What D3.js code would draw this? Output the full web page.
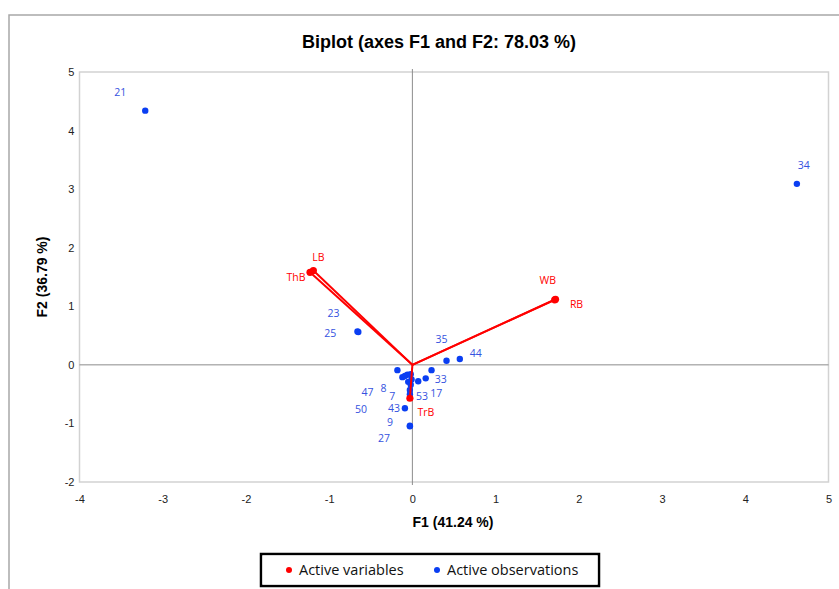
<!DOCTYPE html>
<html>
<head>
<meta charset="utf-8">
<script src="https://cdn.jsdelivr.net/npm/d3@7"></script>
<style>
  body { margin: 0; background: #fff; }
  svg { display: block; }
</style>
</head>
<body>
<div id="chart"></div>
<script>
var w = 839;
var h = 589;

// active variables (vectors from origin)
var varNames = ["LB", "ThB", "WB", "RB", "TrB"];
var varF1 = [-1.19, -1.23, 1.71, 1.72, -0.03];
var varF2 = [1.61, 1.58, 1.11, 1.12, -0.57];

// active observations
var obsNames = ["21", "34", "25", "23", "35", "44", "47", "", "33", "17", "8", "50", "", "", "", "7", "", "", "53", "43", "9", "27"];
var obsF1 = [-3.21, 4.62, -0.65, -0.66, 0.41, 0.57, -0.18, 0.23, 0.16, 0.07, -0.12, -0.09, -0.06, -0.02, -0.01, -0.05, -0.02, -0.03, -0.03, -0.09, -0.03, -0.03];
var obsF2 = [4.34, 3.09, 0.56, 0.57, 0.07, 0.10, -0.09, -0.09, -0.23, -0.28, -0.21, -0.19, -0.17, -0.16, -0.25, -0.29, -0.34, -0.43, -0.50, -0.74, -1.04, -1.05];

var xTicks = [-4, -3, -2, -1, 0, 1, 2, 3, 4, 5];
var yTicks = [-2, -1, 0, 1, 2, 3, 4, 5];

// label placement (pixel offsets from the point)
var varLabelOff = [[5, -13], [-14, 5], [-7, -20], [21, 5], [16, 14]];
var obsLabelOff = [[-25, -18], [7, -19], [-28, 1], [-24, -18], [-5, -21], [16, -6], [-30, 22], [0, 0],
  [15, 1], [18, 12], [-19, 11], [-44, 33], [0, 0], [0, 0], [0, 0], [-16, 14], [0, 0], [0, 0],
  [12, 2], [-11, 0], [-20, -3], [-26, 12]];

var svg = d3.select("#chart").append("svg").attr("width", w).attr("height", h);

var narrow = "'Liberation Sans Narrow', 'Arial Narrow', 'Liberation Sans', sans-serif";
var labFont = "'Open Sans', 'Noto Sans', sans-serif";
var blue = "#0a3ef2";
var blueText = "#3552e0";
var red = "#ff0000";

// outer frame
svg.append("rect").attr("x", 9).attr("y", 15).attr("width", w + 10).attr("height", h + 10)
  .attr("fill", "none").attr("stroke", "#a8a8a8").attr("stroke-width", 1.5);

var x = d3.scaleLinear().domain([-4, 5]).range([79.5, 828.5]);
var y = d3.scaleLinear().domain([-2, 5]).range([482, 72]);

// plot frame
svg.append("rect").attr("x", x(-4)).attr("y", y(5))
  .attr("width", x(5) - x(-4)).attr("height", y(-2) - y(5))
  .attr("fill", "none").attr("stroke", "#d2d2d2").attr("stroke-width", 1.5);

// zero lines
svg.append("line").attr("x1", x(-4)).attr("x2", x(5)).attr("y1", y(0)).attr("y2", y(0))
  .attr("stroke", "#8c8c8c").attr("stroke-width", 1);
svg.append("line").attr("x1", x(0)).attr("x2", x(0)).attr("y1", y(5) - 3).attr("y2", y(-2) + 3)
  .attr("stroke", "#8c8c8c").attr("stroke-width", 1);

// axes (tick labels only)
var fmt = function(d) { return String(d); };
var xAxis = svg.append("g").attr("transform", "translate(0," + (y(-2) + 8) + ")")
  .call(d3.axisBottom(x).tickValues(xTicks).tickSize(0).tickFormat(fmt));
var yAxis = svg.append("g").attr("transform", "translate(" + (x(-4) - 12) + ",0)")
  .call(d3.axisLeft(y).tickValues(yTicks).tickSize(0).tickFormat(fmt));
[xAxis, yAxis].forEach(function(a) {
  a.select(".domain").remove();
  a.selectAll("text").attr("font-family", narrow).attr("font-size", 11).attr("fill", "#222");
});
xAxis.selectAll("text").attr("dy", "0.9em");
yAxis.selectAll("text").attr("text-anchor", "end").attr("dx", "0.9em");

// title and axis titles
svg.append("text").text("Biplot (axes F1 and F2: 78.03 %)")
  .attr("x", 439).attr("y", 48).attr("text-anchor", "middle")
  .attr("font-family", narrow).attr("font-weight", "bold").attr("font-size", 18).attr("fill", "#000");
svg.append("text").text("F1 (41.24 %)")
  .attr("x", 453).attr("y", 527).attr("text-anchor", "middle")
  .attr("font-family", narrow).attr("font-weight", "bold").attr("font-size", 14).attr("fill", "#000");
svg.append("text").text("F2 (36.79 %)")
  .attr("transform", "translate(47,277) rotate(-90)").attr("text-anchor", "middle")
  .attr("font-family", narrow).attr("font-weight", "bold").attr("font-size", 14).attr("fill", "#000");

// observations
svg.append("g").selectAll("circle").data(obsF1).join("circle")
  .attr("cx", function(d) { return x(d); })
  .attr("cy", function(d, i) { return y(obsF2[i]); })
  .attr("r", 3.2).attr("fill", blue);

svg.append("g").selectAll("text").data(obsNames).join("text")
  .text(function(d) { return d; })
  .attr("x", function(d, i) { return x(obsF1[i]) + obsLabelOff[i][0]; })
  .attr("y", function(d, i) { return y(obsF2[i]) + obsLabelOff[i][1]; })
  .attr("dy", "0.35em").attr("text-anchor", "middle")
  .attr("font-family", labFont).attr("font-size", 10.5).attr("fill", blueText);

// variable vectors
svg.append("g").selectAll("line").data(varF1).join("line")
  .attr("x1", x(0)).attr("y1", y(0))
  .attr("x2", function(d) { return x(d); })
  .attr("y2", function(d, i) { return y(varF2[i]); })
  .attr("stroke", red).attr("stroke-width", 2);

svg.append("g").selectAll("circle").data(varF1).join("circle")
  .attr("cx", function(d) { return x(d); })
  .attr("cy", function(d, i) { return y(varF2[i]); })
  .attr("r", 3.6).attr("fill", red);

svg.append("g").selectAll("text").data(varNames).join("text")
  .text(function(d) { return d; })
  .attr("x", function(d, i) { return x(varF1[i]) + varLabelOff[i][0]; })
  .attr("y", function(d, i) { return y(varF2[i]) + varLabelOff[i][1]; })
  .attr("dy", "0.35em").attr("text-anchor", "middle")
  .attr("font-family", labFont).attr("font-size", 10.5).attr("fill", red);

// legend
var leg = svg.append("g");
leg.append("rect").attr("x", 261).attr("y", 554).attr("width", 338).attr("height", 32)
  .attr("fill", "#fff").attr("stroke", "#000").attr("stroke-width", 2.5);
leg.append("rect").attr("x", 263).attr("y", 556).attr("width", 334).attr("height", 28)
  .attr("fill", "none").attr("stroke", "#fff").attr("stroke-width", 0.8);
var legItems = [["Active variables", red, 289], ["Active observations", blue, 437]];
legItems.forEach(function(it) {
  leg.append("circle").attr("cx", it[2]).attr("cy", 570).attr("r", 3).attr("fill", it[1]);
  leg.append("text").text(it[0]).attr("x", it[2] + 10).attr("y", 575)
    .attr("font-family", labFont).attr("font-size", 14.5).attr("fill", "#111");
});
</script>
</body>
</html>
